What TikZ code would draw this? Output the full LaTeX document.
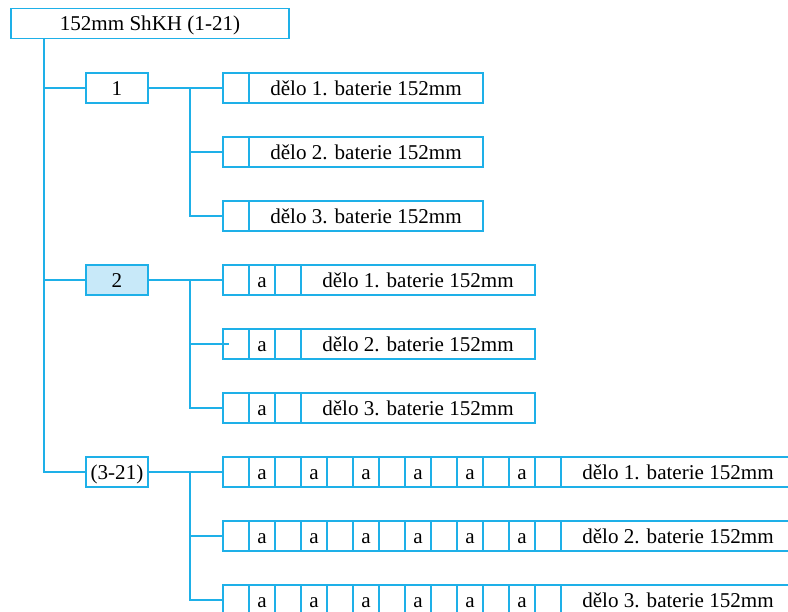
\documentclass[tikz,border=0pt]{standalone}
\usepackage{fontspec}
\setmainfont{Liberation Serif}
\usetikzlibrary{positioning}

\definecolor{linecyan}{RGB}{30,176,232}
\definecolor{fillcyan}{RGB}{200,233,249}

\tikzset{
  box/.style={draw=linecyan,line width=1.4pt,outer sep=0pt,inner sep=0pt,
    minimum height=22.5pt,text height=12pt,text depth=1.5pt,
    font=\fontsize{15.8}{18}\selectfont},
  unitbox/.style={box,minimum width=46pt},
  cell/.style={box,minimum width=19.5pt,anchor=west},
  textcell/.style={box,minimum width=175.5pt,anchor=west},
  link/.style={draw=linecyan,line width=1.4pt}
}

\begin{document}
\begin{tikzpicture}[x=0.75pt,y=-0.75pt]

  \clip (0,0) rectangle (788,611);

  \node[box,minimum width=208.5pt] (HQ) at (150,23.5) {152mm ShKH (1-21)};

  \node[unitbox] (B1) at (117,88) {1};
  \node[unitbox,fill=fillcyan] (B2) at (117,280) {2};
  \node[unitbox] (B3) at (117,472) {(3-21)};

  % trunk
  \draw[link] (HQ.south west) ++(33,0) coordinate (trunk) |- (B3.west);
  \draw[link] (B1.west) -- (B1.west -| trunk);
  \draw[link] (B2.west) -- (B2.west -| trunk);

  % group 1
  \foreach \r in {1,2,3} {
    \node[cell] (A\r c0) at (223,{24+64*\r}) {};
    \node[textcell] (A\r) at (A\r c0.east) {dělo \r. baterie 152mm};
  }

  % group 2
  \foreach \r in {1,2,3} {
    \node[cell] (D\r c0) at (223,{216+64*\r}) {};
    \node[cell] (D\r c1) at (D\r c0.east) {a};
    \node[cell] (D\r c2) at (D\r c1.east) {};
    \node[textcell] (D\r) at (D\r c2.east) {dělo \r. baterie 152mm};
  }

  % group 3
  \foreach \r in {1,2,3} {
    \foreach \c in {0,...,12}
      \node[cell] (G\r c\c) at ({223+26*\c},{408+64*\r}) {\ifodd\c a\fi};
    \node[textcell] (G\r) at (G\r c12.east) {dělo \r. baterie 152mm};
  }

  % branches
  \draw[link] (B1.east) -- (A1c0.west);
  \draw[link] (B1.east) ++(42,0) coordinate (sub1) |- (A3c0.west);
  \draw[link] (A2c0.west -| sub1) -- (A2c0.west);

  \draw[link] (B2.east) -- (D1c0.west);
  \draw[link] (B2.east) ++(42,0) coordinate (sub2) |- (D3c0.west);
  \draw[link] (D2c0.west -| sub2) -- ([xshift=4.5pt]D2c0.west);

  \draw[link] (B3.east) -- (G1c0.west);
  \draw[link] (B3.east) ++(42,0) coordinate (sub3) |- (G3c0.west);
  \draw[link] (G2c0.west -| sub3) -- (G2c0.west);

\end{tikzpicture}
\end{document}
